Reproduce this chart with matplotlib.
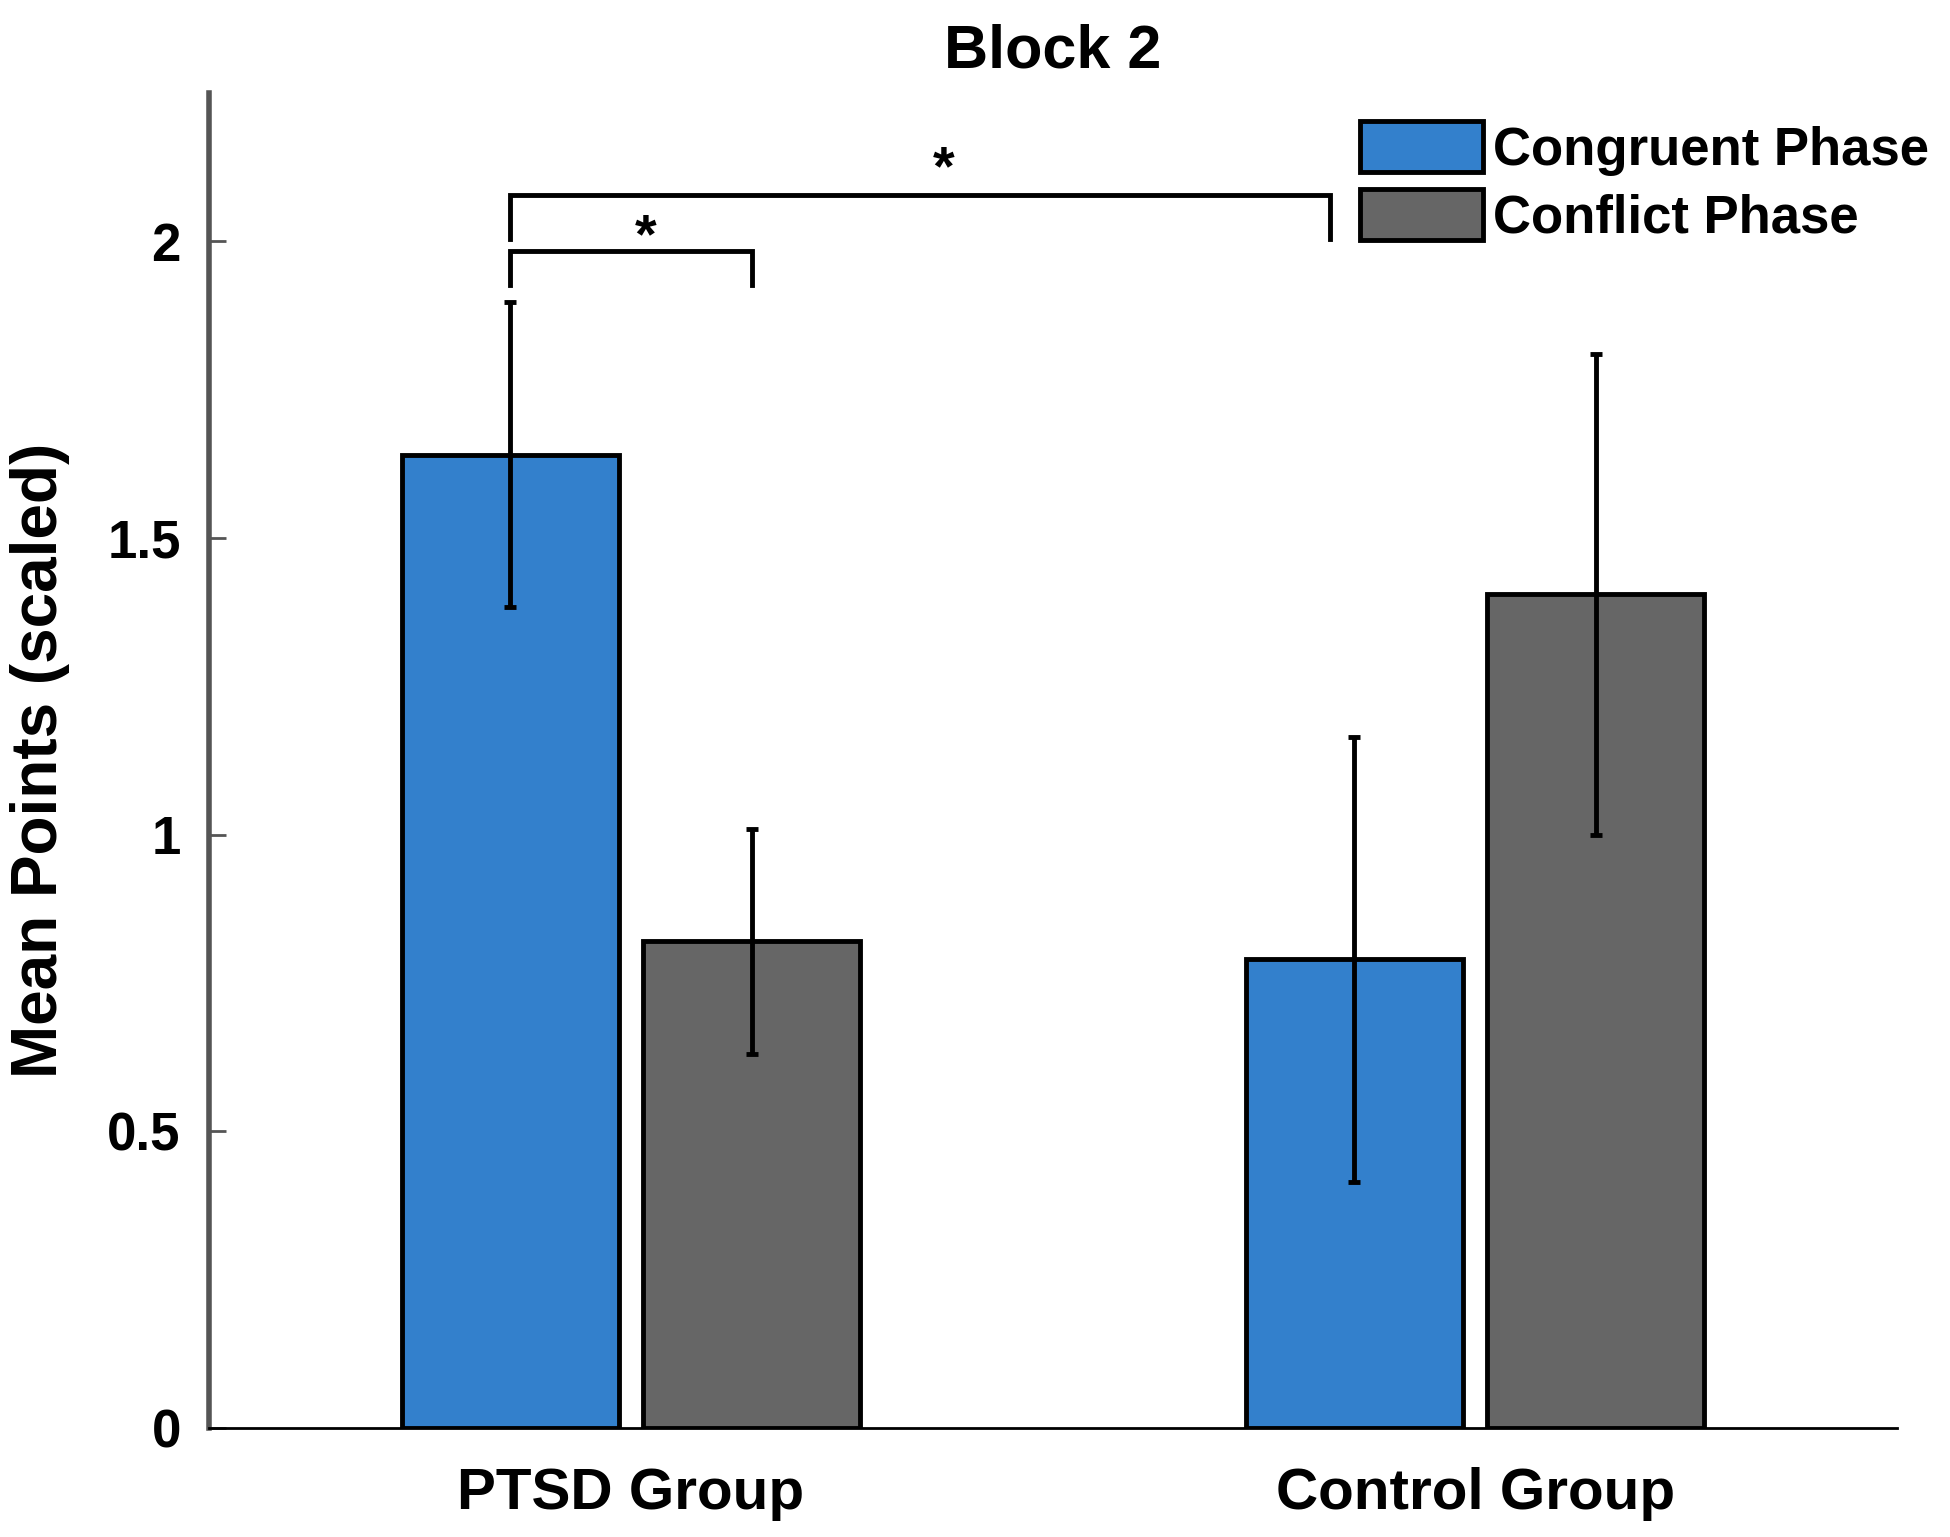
import matplotlib

matplotlib.use("Agg")
import matplotlib.pyplot as plt
import numpy as np

plt.rcParams.update({
    "font.family": ["Liberation Sans", "DejaVu Sans"],
    "font.weight": "bold",
    "axes.labelweight": "bold",
    "font.size": 42,
})

groups = ["PTSD Group", "Control Group"]
phases = ["Congruent Phase", "Conflict Phase"]
means = {
    "Congruent Phase": [1.64, 0.79],
    "Conflict Phase": [0.82, 1.405],
}
errs = {
    "Congruent Phase": [0.257, 0.375],
    "Conflict Phase": [0.19, 0.405],
}
colors = {"Congruent Phase": "#3380cc", "Conflict Phase": "#666666"}

# significance brackets: (x_left, x_right, y_bar, y_leg_bottom, star_x, star_y)
brackets = [
    (0.857, 1.143, 1.983, 1.927, 1.018, 2.005),
    (0.857, 1.828, 2.078, 2.004, 1.37, 2.12),
]

fig = plt.figure(figsize=(19.5, 15.37), dpi=100)
ax = fig.add_axes([0.107, 0.0709, 0.866, 0.8686])

x = np.arange(1, len(groups) + 1)
offset = 0.143
width = 0.257
for i, ph in enumerate(phases):
    pos = x + (i * 2 - 1) * offset
    ax.bar(pos, means[ph], width, color=colors[ph], edgecolor="black",
           linewidth=3.5, label=ph, zorder=2)
    ax.errorbar(pos, means[ph], yerr=errs[ph], fmt="none", ecolor="black",
                elinewidth=3.5, capsize=4, capthick=3.5, zorder=3)

for xl, xr, yb, yl, sx, sy in brackets:
    ax.plot([xl, xl, xr, xr], [yl, yb, yb, yl], color="black", lw=3.5,
            solid_joinstyle="miter", zorder=4)
    ax.text(sx, sy, "*", ha="center", va="center", fontsize=40,
            fontweight="bold")

ax.set_xlim(0.5, 2.5)
ax.set_ylim(0, 2.25)
ax.set_xticks(x)
ax.set_xticklabels(groups)
ax.set_yticks([0, 0.5, 1, 1.5, 2])
ax.set_yticklabels(["0", "0.5", "1", "1.5", "2"])
ax.tick_params(axis="y", direction="in", length=12, width=2, color="#555555",
               pad=20, labelsize=38)
ax.tick_params(axis="x", length=0, pad=28)
ax.spines["top"].set_visible(False)
ax.spines["right"].set_visible(False)
ax.spines["left"].set_color("#555555")
ax.spines["left"].set_linewidth(4)
ax.spines["bottom"].set_linewidth(2)
ax.set_ylabel("Mean Points (scaled)", fontsize=46, fontweight="bold")
ax.yaxis.label.set_verticalalignment("center")
ax.yaxis.set_label_coords(-0.1, 0.5)
ax.set_title("Block 2", fontsize=44, fontweight="bold", pad=18)

ax.legend(loc="upper left", bbox_to_anchor=(0.6974, 0.921),
          bbox_transform=fig.transFigure, frameon=False, fontsize=38,
          handlelength=2.33, handleheight=1.1, handletextpad=0.19,
          labelspacing=0.25, borderpad=0.0, borderaxespad=0.0)

fig.savefig("out.png", dpi=100)
